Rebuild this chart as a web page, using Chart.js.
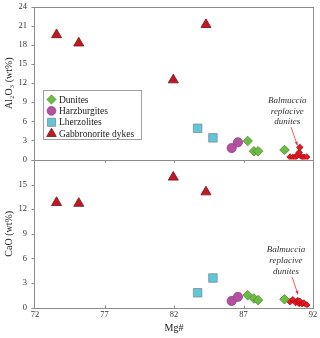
<!DOCTYPE html>
<html>
<head>
<meta charset="utf-8">
<script src="https://cdn.jsdelivr.net/npm/chart.js@4"></script>
<style>
  html, body { margin: 0; padding: 0; background: #fff; }
  #wrap { position: relative; width: 320px; height: 338px; }
  #wrap canvas { position: absolute; left: 0; top: 0; }
</style>
</head>
<body>
<div id="wrap">
  <canvas id="alChart" width="320" height="338"></canvas>
  <canvas id="caChart" width="320" height="338"></canvas>
</div>
<script>
// tick values
const mgTicks = [72, 77, 82, 87, 92];
const alTicks = [0, 3, 6, 9, 12, 15, 18, 21, 24];
const caTicks = [0, 3, 6, 9, 12, 15, 18];

const seriesNames = ['Dunites', 'Harzburgites', 'Lherzolites', 'Gabbronorite dykes'];

// Mg# and oxides (wt%)
const duniteMg = [87.3, 87.75, 88.05, 89.95];
const duniteAl = [2.9, 1.3, 1.3, 1.5];
const duniteCa = [1.5, 1.1, 0.9, 1.0];

const harzMg = [86.15, 86.6];
const harzAl = [1.8, 2.7];
const harzCa = [0.8, 1.3];

const lherzMg = [83.7, 84.8];
const lherzAl = [4.9, 3.4];
const lherzCa = [1.8, 3.6];

const gabbroMg = [73.55, 75.15, 81.95, 84.3];
const gabbroAl = [19.6, 18.3, 12.5, 21.2];
const gabbroCa = [12.8, 12.7, 15.9, 14.1];

// Balmuccia replacive dunites
const balmMg = [90.35, 90.55, 90.75, 90.9, 91.0, 91.05, 91.2, 91.35, 91.55];
const balmAl = [0.4, 0.35, 0.4, 0.7, 1.1, 1.9, 0.4, 0.35, 0.4];
const balmCa = [0.7, 0.95, 0.6, 0.85, 0.5, 0.75, 0.45, 0.55, 0.3];

const FONT = "'Liberation Serif', 'Times New Roman', serif";

const styles = [
    { pointStyle: 'rectRot', radius: 4.8, bg: '#6cbb45', border: '#4f8d34' },
    { pointStyle: 'circle', radius: 4.6, bg: '#b5529f', border: '#94408a' },
    { pointStyle: 'rect', radius: 6.0, bg: '#5fc7d7', border: '#7d8d93' },
    { pointStyle: 'triangle', radius: 5.8, bg: '#be1a24', border: '#7e0e14' }
];

function pts(xs, ys) {
    return xs.map((x, i) => ({ x: x, y: ys[i] }));
}

// gray box round the plot area plus small tick marks
const framePlugin = {
    id: 'frame',
    afterDraw(chart, args, opts) {
        const { ctx, chartArea: a, scales } = chart;
        ctx.save();
        ctx.strokeStyle = '#8c8c8c';
        ctx.lineWidth = 1;
        const l = Math.round(a.left) - 0.5, r = Math.round(a.right) + 0.5;
        const t = Math.round(a.top) + 0.5, b = Math.round(a.bottom) + 0.5;
        ctx.strokeRect(l, t, r - l, b - t);
        ctx.beginPath();
        scales.y.ticks.forEach(tk => {
            const py = Math.round(scales.y.getPixelForValue(tk.value)) + 0.5;
            ctx.moveTo(l - 3, py);
            ctx.lineTo(l, py);
        });
        mgTicks.slice(1, -1).forEach(v => {
            const px = Math.round(scales.x.getPixelForValue(v)) + 0.5;
            ctx.moveTo(px, b);
            ctx.lineTo(px, b + opts.xTick);
        });
        ctx.stroke();
        ctx.restore();
    }
};

// legend box inside the upper panel
const legendPlugin = {
    id: 'boxLegend',
    afterDraw(chart, args, opts) {
        if (!opts.show) return;
        const ctx = chart.ctx;
        ctx.save();
        ctx.strokeStyle = '#a0a0a0';
        ctx.lineWidth = 1;
        ctx.strokeRect(43.5, 90.5, 98, 49);
        ctx.font = '9.5px ' + FONT;
        ctx.textBaseline = 'middle';
        ctx.textAlign = 'left';
        seriesNames.forEach((name, i) => {
            const y = 99.5 + i * 11.4;
            const s = styles[i];
            ctx.fillStyle = s.bg;
            ctx.strokeStyle = s.border;
            ctx.lineWidth = 0.8;
            Chart.helpers.drawPoint(ctx, { pointStyle: s.pointStyle, radius: s.radius * 0.95, rotation: 0, borderWidth: 0.8 }, 51.5, y);
            ctx.fillStyle = '#222';
            ctx.fillText(name, 59, y + 0.5);
        });
        ctx.restore();
    }
};

// italic label and red arrow
const notePlugin = {
    id: 'note',
    afterDraw(chart, args, opts) {
        const { ctx, scales } = chart;
        const x = scales.x, y = scales.y;
        ctx.save();
        ctx.font = 'italic 9px ' + FONT;
        ctx.fillStyle = '#333';
        ctx.textAlign = 'center';
        ctx.textBaseline = 'middle';
        const tx = x.getPixelForValue(opts.textX);
        opts.lines.forEach((line, i) => {
            ctx.fillText(line, tx, y.getPixelForValue(opts.textY[i]));
        });
        const x1 = x.getPixelForValue(opts.from[0]), y1 = y.getPixelForValue(opts.from[1]);
        const x2 = x.getPixelForValue(opts.to[0]), y2 = y.getPixelForValue(opts.to[1]);
        ctx.strokeStyle = '#e8363c';
        ctx.fillStyle = '#e8363c';
        ctx.lineWidth = 0.8;
        ctx.beginPath();
        ctx.moveTo(x1, y1);
        ctx.lineTo(x2, y2);
        ctx.stroke();
        const ang = Math.atan2(y2 - y1, x2 - x1);
        ctx.beginPath();
        ctx.moveTo(x2, y2);
        ctx.lineTo(x2 - 4 * Math.cos(ang - 0.4), y2 - 4 * Math.sin(ang - 0.4));
        ctx.lineTo(x2 - 4 * Math.cos(ang + 0.4), y2 - 4 * Math.sin(ang + 0.4));
        ctx.closePath();
        ctx.fill();
        ctx.restore();
    }
};

function makePanel(id, ys, balm, yTicks, yTitle, pad, showX, note, legend, xTick) {
    const datasets = ys.map((vals, i) => ({
        label: seriesNames[i],
        data: pts(vals[0], vals[1]),
        pointStyle: styles[i].pointStyle,
        pointRadius: styles[i].radius,
        backgroundColor: styles[i].bg,
        borderColor: styles[i].border,
        borderWidth: 0.8,
        showLine: false
    }));
    datasets.push({
        label: 'Balmuccia',
        data: pts(balmMg, balm),
        pointStyle: 'rectRot',
        pointRadius: 3.3,
        backgroundColor: '#e8181f',
        borderColor: '#9a0a0f',
        borderWidth: 0.7,
        showLine: false
    });

    new Chart(document.getElementById(id), {
        type: 'scatter',
        data: { datasets: datasets },
        options: {
            responsive: false,
            animation: false,
            layout: { padding: pad },
            plugins: {
                legend: { display: false },
                tooltip: { enabled: false },
                frame: { xTick: xTick },
                boxLegend: { show: legend },
                note: note
            },
            scales: {
                x: {
                    type: 'linear',
                    min: 72,
                    max: 92,
                    display: showX,
                    afterBuildTicks: s => { s.ticks = mgTicks.map(v => ({ value: v })); },
                    afterFit: s => { s.height = showX ? 30.5 : 0; s.paddingLeft = 0; s.paddingRight = 0; },
                    grid: { display: false, drawTicks: false },
                    border: { display: false },
                    ticks: { padding: 2, color: '#333', font: { family: FONT, size: 8.5 }, maxRotation: 0 },
                    title: { display: true, text: 'Mg#', color: '#222', font: { family: FONT, size: 10 }, padding: { top: 0, bottom: 4 } }
                },
                y: {
                    type: 'linear',
                    min: yTicks[0],
                    max: yTicks[yTicks.length - 1],
                    afterBuildTicks: s => { s.ticks = yTicks.map(v => ({ value: v })); },
                    afterFit: s => { s.width = 35; s.paddingTop = 0; s.paddingBottom = 0; },
                    grid: { display: false, drawTicks: false },
                    border: { display: false },
                    ticks: {
                        padding: 8,
                        color: '#333',
                        font: { family: FONT, size: 8.5 },
                        callback: v => (id === 'caChart' && v === 18) ? '' : String(v)
                    },
                    title: { display: true, text: yTitle, color: '#222', font: { family: FONT, size: 10 }, padding: { top: 3, bottom: 0 } }
                }
            }
        },
        plugins: [framePlugin, legendPlugin, notePlugin]
    });
}

const noteLines = ['Balmuccia', 'replacive', 'dunites'];

makePanel('alChart',
    [[duniteMg, duniteAl], [harzMg, harzAl], [lherzMg, lherzAl], [gabbroMg, gabbroAl]],
    balmAl, alTicks, 'Al\u2082O\u2083 (wt%)',
    { top: 5, right: 7, bottom: 178.5, left: 0 }, false,
    { lines: noteLines, textX: 90.15, textY: [9.25, 7.6, 5.95], from: [90.42, 5.1], to: [90.88, 2.2] },
    true, 2);

makePanel('caChart',
    [[duniteMg, duniteCa], [harzMg, harzCa], [lherzMg, lherzCa], [gabbroMg, gabbroCa]],
    balmCa, caTicks, 'CaO (wt%)',
    { top: 160, right: 7, bottom: 0, left: 0 }, true,
    { lines: noteLines, textX: 90.05, textY: [7.1, 5.7, 4.4], from: [90.5, 3.7], to: [90.92, 1.6] },
    false, -3);
</script>
</body>
</html>
